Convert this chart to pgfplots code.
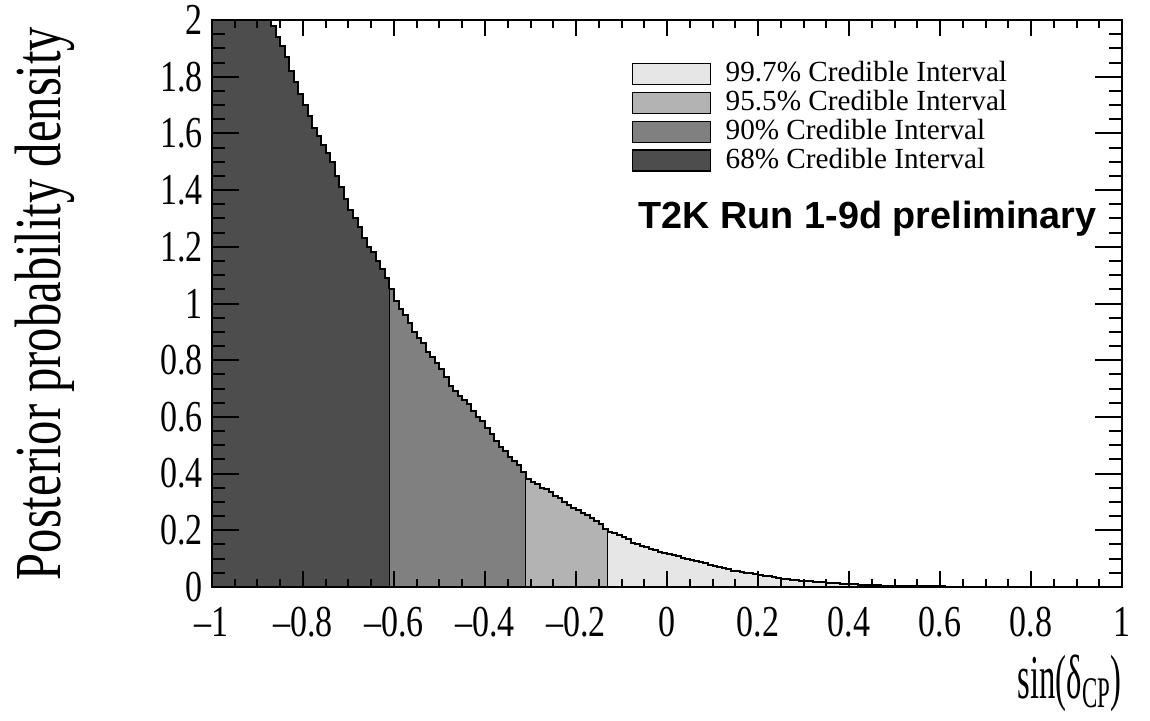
\documentclass[border=0pt]{standalone}
\usepackage{graphicx}
\usepackage{pgfplots}
\usepackage{pgfplotstable}
\pgfplotsset{compat=1.18}
\usepackage{fontspec}
\setmainfont{Liberation Serif}
\newfontfamily\helv{Liberation Sans}
\definecolor{cA}{HTML}{4D4D4D}
\definecolor{cB}{HTML}{808080}
\definecolor{cC}{HTML}{B3B3B3}
\definecolor{cD}{HTML}{E6E6E6}
\newcommand\tl[1]{\scalebox{1}[1.3]{#1}}

\pgfplotstableread{
x y
-1.00 4.50
-0.99 3.40
-0.98 3.00
-0.97 2.80
-0.96 2.65
-0.95 2.50
-0.94 2.42
-0.93 2.33
-0.92 2.25
-0.91 2.20
-0.90 2.13
-0.89 2.08
-0.88 2.03
-0.87 1.98
-0.86 1.94
-0.85 1.91
-0.84 1.87
-0.83 1.82
-0.82 1.78
-0.81 1.74
-0.80 1.70
-0.79 1.66
-0.78 1.62
-0.77 1.59
-0.76 1.56
-0.75 1.53
-0.74 1.50
-0.73 1.45
-0.72 1.41
-0.71 1.37
-0.70 1.33
-0.69 1.30
-0.68 1.27
-0.67 1.23
-0.66 1.20
-0.65 1.18
-0.64 1.15
-0.63 1.12
-0.62 1.09
-0.61 1.05
}\tA

\pgfplotstableread{
x y
-0.61 1.05
-0.60 1.01
-0.59 0.98
-0.58 0.96
-0.57 0.93
-0.56 0.90
-0.55 0.88
-0.54 0.86
-0.53 0.83
-0.52 0.81
-0.51 0.79
-0.50 0.77
-0.49 0.74
-0.48 0.71
-0.47 0.69
-0.46 0.675
-0.45 0.66
-0.44 0.645
-0.43 0.62
-0.42 0.60
-0.41 0.585
-0.40 0.56
-0.39 0.54
-0.38 0.515
-0.37 0.495
-0.36 0.48
-0.35 0.46
-0.34 0.445
-0.33 0.43
-0.32 0.405
-0.31 0.38
}\tB

\pgfplotstableread{
x y
-0.31 0.38
-0.30 0.372
-0.29 0.362
-0.28 0.35
-0.27 0.345
-0.26 0.335
-0.25 0.322
-0.24 0.315
-0.23 0.30
-0.22 0.29
-0.21 0.28
-0.20 0.27
-0.19 0.262
-0.18 0.255
-0.17 0.243
-0.16 0.232
-0.15 0.222
-0.14 0.205
-0.13 0.195
}\tC

\pgfplotstableread{
x y
-0.13 0.195
-0.12 0.19
-0.11 0.183
-0.10 0.178
-0.09 0.168
-0.08 0.157
-0.07 0.152
-0.06 0.146
-0.05 0.140
-0.04 0.135
-0.03 0.130
-0.02 0.124
-0.01 0.120
0.00 0.117
0.01 0.113
0.02 0.108
0.03 0.104
0.04 0.100
0.05 0.096
0.06 0.092
0.07 0.088
0.08 0.084
0.09 0.078
0.10 0.073
0.11 0.069
0.12 0.066
0.13 0.062
0.14 0.058
0.15 0.055
0.16 0.052
0.17 0.050
0.18 0.048
0.19 0.046
0.20 0.043
0.21 0.040
0.22 0.038
0.23 0.035
0.24 0.032
0.25 0.030
0.26 0.028
0.27 0.026
0.28 0.024
0.29 0.022
0.30 0.021
0.31 0.020
0.32 0.019
0.33 0.018
0.34 0.016
0.35 0.015
0.36 0.014
0.37 0.013
0.38 0.012
0.39 0.011
0.40 0.0100
0.41 0.0093
0.42 0.0085
0.43 0.0078
0.44 0.0070
0.45 0.0064
0.46 0.0058
0.47 0.0053
0.48 0.0050
0.49 0.0046
0.50 0.0042
0.51 0.0039
0.52 0.0036
0.53 0.0033
0.54 0.0031
0.55 0.0029
0.56 0.0027
0.57 0.0025
0.58 0.0023
0.59 0.0021
0.60 0.0020
}\tD

\pgfplotstableread{
x y
0.60 0.0020
0.61 0.0018
0.62 0.0017
0.63 0.0016
0.64 0.0015
0.65 0.0014
0.66 0.0013
0.67 0.0012
0.68 0.0011
0.69 0.0011
0.70 0.0010
0.71 0.0009
0.72 0.0009
0.73 0.0008
0.74 0.0008
0.75 0.0007
0.76 0.0007
0.77 0.0006
0.78 0.0006
0.79 0.0006
0.80 0.0005
0.81 0.0005
0.82 0.0005
0.83 0.0005
0.84 0.0004
0.85 0.0004
0.86 0.0004
0.87 0.0004
0.88 0.0004
0.89 0.0004
0.90 0.0003
0.91 0.0003
0.92 0.0003
0.93 0.0003
0.94 0.0003
0.95 0.0003
0.96 0.0003
0.97 0.0003
0.98 0.0003
0.99 0.0003
1.00 0.0003
}\tE

\begin{document}
\begin{tikzpicture}
\begin{axis}[
  at={(0pt,0pt)}, anchor=south west,
  scale only axis, width=455pt, height=283.5pt,
  xmin=-1, xmax=1, ymin=0, ymax=2,
  axis on top,
  axis line style={line width=1pt},
  every tick/.style={black, line width=1pt},
  tick align=inside, xtick pos=both, ytick pos=both,
  xtick={-1,-0.8,-0.6,-0.4,-0.2,0,0.2,0.4,0.6,0.8,1},
  xticklabels={\tl{–1},\tl{–0.8},\tl{–0.6},\tl{–0.4},\tl{–0.2},\tl{0},\tl{0.2},\tl{0.4},\tl{0.6},\tl{0.8},\tl{1}},
  ytick={0,0.2,0.4,0.6,0.8,1,1.2,1.4,1.6,1.8,2},
  yticklabels={\tl{0},\tl{0.2},\tl{0.4},\tl{0.6},\tl{0.8},\tl{1},\tl{1.2},\tl{1.4},\tl{1.6},\tl{1.8},\tl{2}},
  minor x tick num=3, minor y tick num=3,
  xtick style={/pgfplots/major tick length=7.85pt, /pgfplots/minor tick length=4.2pt},
  ytick style={/pgfplots/major tick length=13.3pt, /pgfplots/minor tick length=6.7pt},
  ticklabel style={font=\fontsize{17pt}{17pt}\selectfont, inner sep=0pt},
  xticklabel shift=10pt, yticklabel shift=4.5pt,
  xlabel={\scalebox{0.68}[1.3]{sin(δ\textsubscript{CP})}},
  ylabel={\scalebox{1}[1.35]{Posterior probability density}},
  xlabel style={at={(axis description cs:1,-0.196)}, anchor=base east, inner sep=0pt, font=\fontsize{24pt}{24pt}\selectfont},
  ylabel style={at={(axis description cs:-0.1835,0.5)}, anchor=center, inner sep=0pt, font=\fontsize{24.3pt}{24.3pt}\selectfont},
  legend image code/.code={\draw[#1, line width=0.6pt] (0pt,-1.3pt) rectangle (39pt,9.2pt); \path (46.5pt,0pt);},
  legend cell align=left,
  legend style={at={(rel axis cs:0.4612,0.9282)}, anchor=north west, draw=none, fill=none,
    inner sep=0pt, outer sep=0pt, row sep=0pt, column sep=0pt,
    font=\fontsize{14.6pt}{14.6pt}\selectfont,
    nodes={inner sep=0pt, text height=10.5pt, text depth=3.95pt, anchor=base west}},
]
\addlegendimage{fill=cD, draw=black}
\addlegendentry{99.7\% Credible Interval}
\addlegendimage{fill=cC, draw=black}
\addlegendentry{95.5\% Credible Interval}
\addlegendimage{fill=cB, draw=black}
\addlegendentry{90\% Credible Interval}
\addlegendimage{fill=cA, draw=black}
\addlegendentry{68\% Credible Interval}

\addplot[const plot, fill=cA, draw=black, line width=0.5pt, forget plot] table {\tA} \closedcycle;
\addplot[const plot, fill=cB, draw=black, line width=0.5pt, forget plot] table {\tB} \closedcycle;
\addplot[const plot, fill=cC, draw=black, line width=0.5pt, forget plot] table {\tC} \closedcycle;
\addplot[const plot, fill=cD, draw=black, line width=0.5pt, forget plot] table {\tD} \closedcycle;
\addplot[const plot, black, line width=1pt, forget plot] table {\tA};
\addplot[const plot, black, line width=1pt, forget plot] table {\tB};
\addplot[const plot, black, line width=1pt, forget plot] table {\tC};
\addplot[const plot, black, line width=1pt, forget plot] table {\tD};
\addplot[const plot, black, line width=1pt, forget plot] table {\tE};

\node[anchor=base east, inner sep=0pt, font=\helv\bfseries\fontsize{18.9pt}{18.9pt}\selectfont] at (rel axis cs:0.9725,0.6326) {T2K Run 1-9d preliminary};
\end{axis}
\pgfresetboundingbox
\path[use as bounding box] (-106pt,-66.5pt) rectangle (469pt,293.5pt);
\end{tikzpicture}
\end{document}
